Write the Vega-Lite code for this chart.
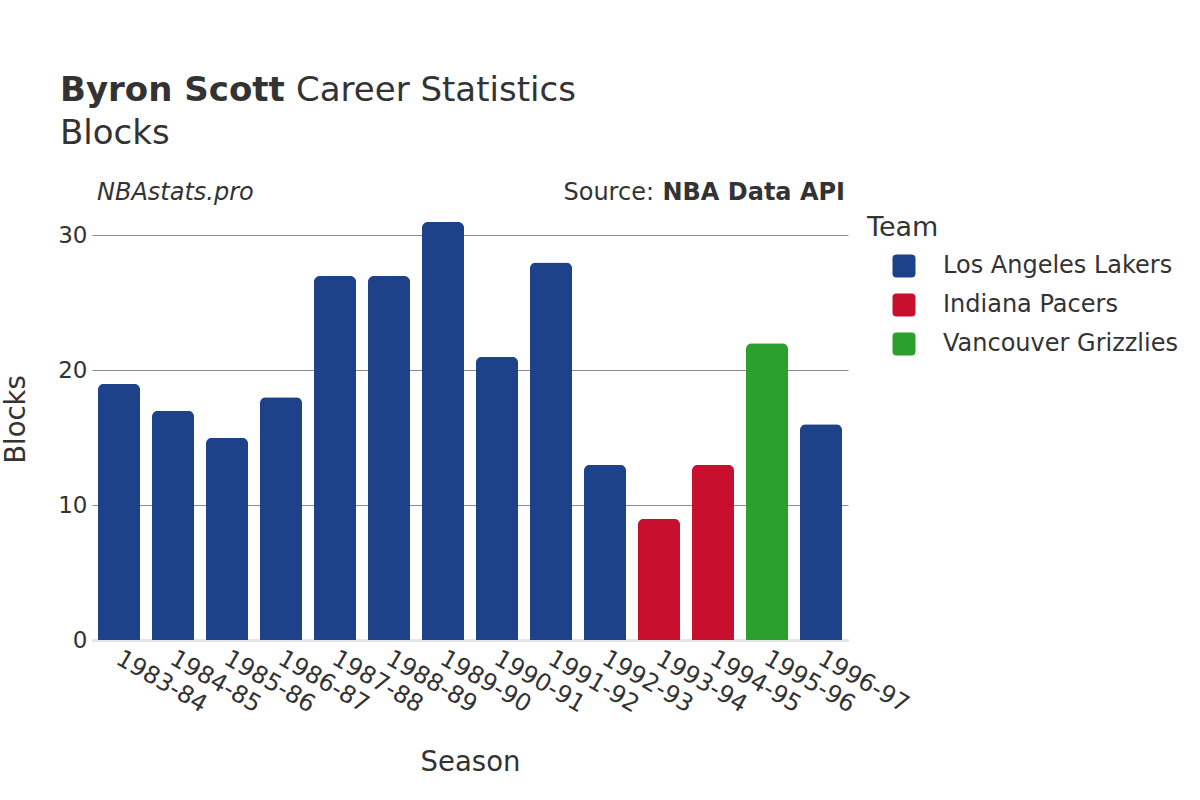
{
  "$schema": "https://vega.github.io/schema/vega-lite/v6.json",
  "autosize": "none",
  "width": 756,
  "height": 418,
  "padding": {"left": 92, "top": 222, "right": 352, "bottom": 160},
  "background": "white",
  "config": {
    "font": "DejaVu Sans",
    "view": {"stroke": null},
    "axis": {"labelColor": "#333333", "titleColor": "#333333", "labelFont": "DejaVu Sans", "titleFont": "DejaVu Sans", "titleFontWeight": "normal"}
  },
  "layer": [
    {
      "data": {"values": [
        {"season": "1983-84", "team": "Los Angeles Lakers", "blocks": 19},
        {"season": "1984-85", "team": "Los Angeles Lakers", "blocks": 17},
        {"season": "1985-86", "team": "Los Angeles Lakers", "blocks": 15},
        {"season": "1986-87", "team": "Los Angeles Lakers", "blocks": 18},
        {"season": "1987-88", "team": "Los Angeles Lakers", "blocks": 27},
        {"season": "1988-89", "team": "Los Angeles Lakers", "blocks": 27},
        {"season": "1989-90", "team": "Los Angeles Lakers", "blocks": 31},
        {"season": "1990-91", "team": "Los Angeles Lakers", "blocks": 21},
        {"season": "1991-92", "team": "Los Angeles Lakers", "blocks": 28},
        {"season": "1992-93", "team": "Los Angeles Lakers", "blocks": 13},
        {"season": "1993-94", "team": "Indiana Pacers", "blocks": 9},
        {"season": "1994-95", "team": "Indiana Pacers", "blocks": 13},
        {"season": "1995-96", "team": "Vancouver Grizzlies", "blocks": 22},
        {"season": "1996-97", "team": "Los Angeles Lakers", "blocks": 16}
      ]},
      "mark": {"type": "bar", "cornerRadiusTopLeft": 6, "cornerRadiusTopRight": 6},
      "encoding": {
        "x": {
          "field": "season", "type": "nominal", "sort": null,
          "scale": {"paddingInner": 0.22, "paddingOuter": 0.11},
          "axis": {
            "title": "Season", "titleFontSize": 27.5, "titlePadding": 32,
            "labelAngle": 30, "labelAlign": "left", "labelBaseline": "top", "labelFontSize": 24, "labelPadding": 6, "labelOffset": 5,
            "ticks": false, "domain": true, "domainColor": "#e6e6e6", "domainWidth": 3, "grid": false
          }
        },
        "y": {
          "field": "blocks", "type": "quantitative",
          "scale": {"domain": [0, 31], "nice": false},
          "axis": {
            "title": "Blocks", "titleFontSize": 27.5, "titlePadding": 27, "titleY": 197,
            "values": [0, 10, 20, 30], "labelFontSize": 23, "labelPadding": 5,
            "ticks": false, "domain": false, "grid": true, "gridColor": "#8a8a8a", "gridWidth": 1
          }
        },
        "color": {
          "field": "team", "type": "nominal",
          "scale": {"domain": ["Los Angeles Lakers", "Indiana Pacers", "Vancouver Grizzlies"], "range": ["#1d428a", "#c8102e", "#2ca02c"]},
          "legend": {
            "title": "Team", "titleFontSize": 27, "titleFontWeight": "normal", "titleColor": "#333333", "titlePadding": 12,
            "labelFontSize": 24, "labelColor": "#333333", "labelOffset": 27, "labelLimit": 0,
            "symbolType": "M -0.65,-1 L 0.65,-1 Q 1,-1 1,-0.65 L 1,0.65 Q 1,1 0.65,1 L -0.65,1 Q -1,1 -1,0.65 L -1,-0.65 Q -1,-1 -0.65,-1 Z",
            "symbolSize": 529, "symbolOpacity": 1, "symbolStrokeWidth": 0, "symbolOffset": 25,
            "rowPadding": 15, "orient": "none", "legendX": 775, "legendY": -7, "padding": 0
          }
        }
      }
    },
    {
      "data": {"values": [{}]},
      "mark": {"type": "text", "font": "DejaVu Sans", "fontWeight": "bold", "fontSize": 34, "color": "#333333", "align": "left", "baseline": "alphabetic"},
      "encoding": {"text": {"value": "Byron Scott"}, "x": {"value": -32}, "y": {"value": -121}}
    },
    {
      "data": {"values": [{}]},
      "mark": {"type": "text", "font": "DejaVu Sans", "fontSize": 34, "color": "#333333", "align": "left", "baseline": "alphabetic"},
      "encoding": {"text": {"value": "Career Statistics"}, "x": {"value": 204}, "y": {"value": -121}}
    },
    {
      "data": {"values": [{}]},
      "mark": {"type": "text", "font": "DejaVu Sans", "fontSize": 34, "color": "#333333", "align": "left", "baseline": "alphabetic"},
      "encoding": {"text": {"value": "Blocks"}, "x": {"value": -32}, "y": {"value": -78}}
    },
    {
      "data": {"values": [{}]},
      "mark": {"type": "text", "font": "DejaVu Sans", "fontStyle": "italic", "fontSize": 24, "color": "#333333", "align": "left", "baseline": "alphabetic"},
      "encoding": {"text": {"value": "NBAstats.pro"}, "x": {"value": 5}, "y": {"value": -22}}
    },
    {
      "data": {"values": [{}]},
      "mark": {"type": "text", "font": "DejaVu Sans", "fontWeight": "bold", "fontSize": 24, "color": "#333333", "align": "right", "baseline": "alphabetic"},
      "encoding": {"text": {"value": "NBA Data API"}, "x": {"value": 753}, "y": {"value": -22}}
    },
    {
      "data": {"values": [{}]},
      "mark": {"type": "text", "font": "DejaVu Sans", "fontSize": 24, "color": "#333333", "align": "right", "baseline": "alphabetic"},
      "encoding": {"text": {"value": "Source:"}, "x": {"value": 562}, "y": {"value": -22}}
    }
  ]
}
